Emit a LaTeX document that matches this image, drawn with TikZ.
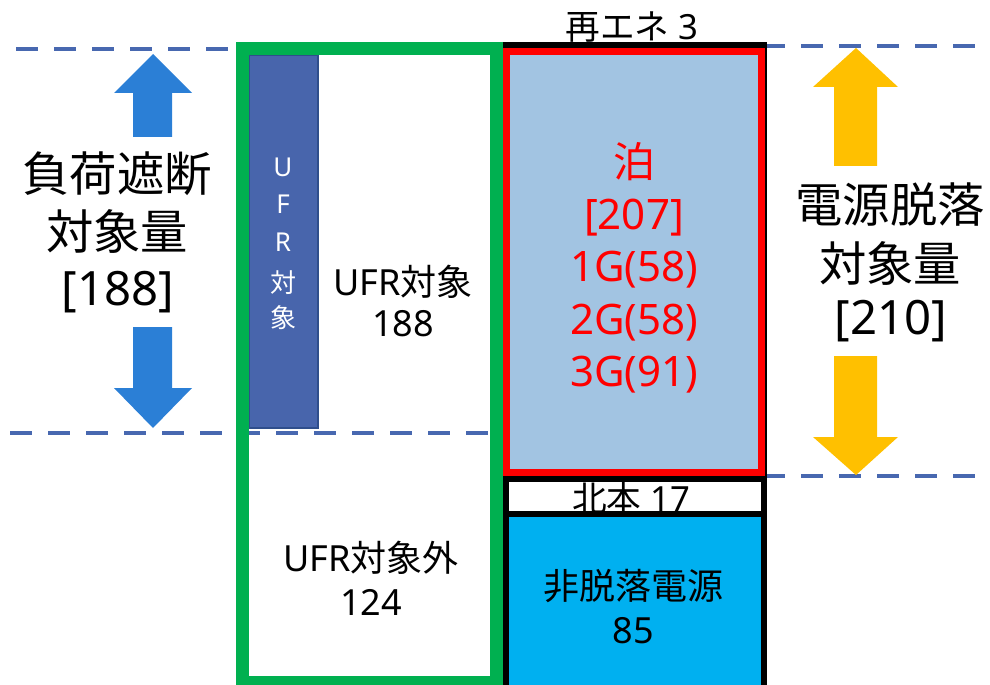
\documentclass[tikz,border=0pt]{standalone}
\usepackage{fontspec}
\setmainfont{Noto Sans}
\newfontfamily\jp{Noto Sans CJK JP}
\definecolor{grn}{RGB}{0,176,80}
\definecolor{dsh}{RGB}{72,104,176}
\definecolor{ufrbar}{RGB}{72,101,172}
\definecolor{ufredge}{RGB}{47,78,140}
\definecolor{lblue}{RGB}{162,196,226}
\definecolor{cyanb}{RGB}{0,176,240}
\definecolor{arrblue}{RGB}{43,127,214}
\definecolor{arryel}{RGB}{255,192,0}
\tikzset{
  dashln/.style={draw=dsh, line width=3.4pt, dash pattern=on 16.3pt off 12.2pt},
  big/.style={inner sep=0pt, font=\fontsize{35.5}{42}\selectfont},
  mid/.style={inner sep=0pt, font=\fontsize{27}{32}\selectfont},
  redtxt/.style={inner sep=0pt, text=red, font=\fontsize{31.5}{38}\selectfont},
  vert/.style={inner sep=0pt, text=white, font=\fontsize{19.5}{23}\selectfont},
  small/.style={inner sep=0pt, font=\fontsize{26}{30}\selectfont},
}
\begin{document}
\begin{tikzpicture}[x=0.75pt,y=-0.75pt]
\useasboundingbox (0,0) rectangle (990,685);
% dashed guide lines
\draw[dashln] (16,49) -- (236,49);
\draw[dashln] (10,433) -- (490,433);
\draw[dashln] (763,46) -- (980,46);
\draw[dashln] (763,476) -- (980,476);
% UFR bar
\draw[fill=ufrbar, draw=ufredge, line width=1.2pt] (249,55) rectangle (318,428);
% right column: white background, cyan bottom
\fill[white] (506,45) rectangle (764,690);
\fill[cyanb] (506,514) rectangle (764,690);
% text drawn before borders
\node[small] (hokuhon) at (631,498) {{\jp 北本} 17};
\node[small] (saiene) at (632,27) {{\jp 再エネ} 3};
% black column outline and separators
\draw[black, line width=4.5pt] (506,690) -- (506,45) -- (764,45) -- (764,690);
\draw[black, line width=4.5pt] (506,479) -- (764,479);
\draw[black, line width=4.5pt] (506,514) -- (764,514);
% red box
\draw[red, fill=lblue, line width=5.25pt] (506.5,51.5) rectangle (761.5,472.5);
% green box
\draw[grn, line width=9.75pt] (242,48.5) rectangle (496.5,682);
% arrows
\fill[arrblue] (153,54) -- (192,93) -- (172,93) -- (172,137) -- (133,137) -- (133,93) -- (114,93) -- cycle;
\fill[arrblue] (153,428) -- (192,388) -- (172,388) -- (172,327) -- (133,327) -- (133,388) -- (114,388) -- cycle;
\fill[arryel] (856,48) -- (898,87) -- (877,87) -- (877,166) -- (834,166) -- (834,87) -- (813,87) -- cycle;
\fill[arryel] (856,475) -- (898,437) -- (877,437) -- (877,356) -- (834,356) -- (834,437) -- (813,437) -- cycle;
% left labels
\node[big] (l1) at (117,174) {\jp 負荷遮断};
\node[big] (l2) at (117,231) {\jp 対象量};
\node[big] (l3) at (118,292) {[188]};
% right labels
\node[big] (r1) at (890,205) {\jp 電源脱落};
\node[big] (r2) at (890,263) {\jp 対象量};
\node[big] (r3) at (891,321) {[210]};
% vertical UFR bar text
\node[vert] (v1) at (283,167) {U};
\node[vert] (v2) at (283,204) {F};
\node[vert] (v3) at (283,242) {R};
\node[vert] (v4) at (283,283) {\jp 対};
\node[vert] (v5) at (283,318) {\jp 象};
% UFR texts
\node[mid] (ufr1) at (403,282) {UFR{\jp 対象}};
\node[mid] (ufr2) at (403,324) {188};
\node[mid] (ufx1) at (371,558) {UFR{\jp 対象外}};
\node[mid] (ufx2) at (371,602) {124};
% tomari
\node[redtxt] (t1) at (634,162) {\jp 泊};
\node[redtxt] (t2) at (634,218) {[207]};
\node[redtxt] (t3) at (634,270) {1G(58)};
\node[redtxt] (t4) at (634,323) {2G(58)};
\node[redtxt] (t5) at (634,375) {3G(91)};
% non-trip
\node[mid] (n1) at (633,586) {\jp 非脱落電源};
\node[mid] (n2) at (633,631) {85};
\end{tikzpicture}
\end{document}
